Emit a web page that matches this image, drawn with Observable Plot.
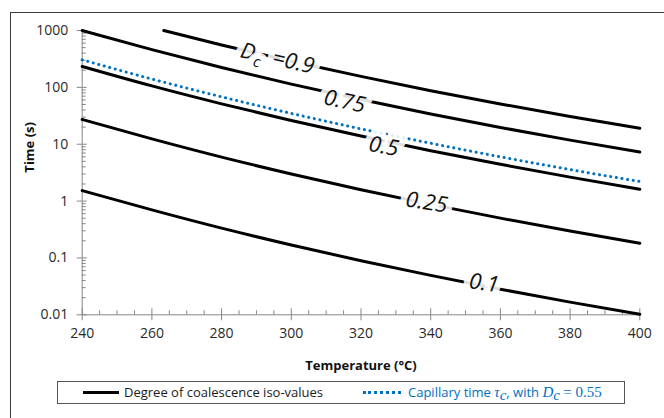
<!DOCTYPE html>
<html><head><meta charset="utf-8">
<script src="https://cdn.jsdelivr.net/npm/d3@7"></script>
<script src="https://cdn.jsdelivr.net/npm/@observablehq/plot@0.6"></script>
<style>
html,body{margin:0;padding:0;background:#fff;overflow:hidden;}
#wrap{position:relative;width:664px;height:418px;overflow:hidden;font-family:"Open Sans",sans-serif;}
#frame{position:absolute;left:10px;top:12px;width:700px;height:500px;border:1.5px solid #3a3a3a;box-sizing:border-box;}
#chart{position:absolute;left:0;top:0;}
#legend{position:absolute;left:57px;top:381px;width:568px;height:23px;border:1px solid #555;box-sizing:border-box;font-size:13px;color:#1a1a1a;}
#legend .it{position:absolute;top:1px;white-space:nowrap;line-height:19px;}
#legend .sw{position:absolute;top:10px;height:0;}
.m{font-family:"Liberation Serif",serif;font-size:15px;}
.m.i{font-style:italic;}
sub{font-size:11px;vertical-align:-3px;line-height:0;}
</style></head><body>
<div id="wrap">
  <div id="frame"></div>
  <div id="chart"></div>
  <div id="legend">
    <div class="sw" style="left:25px;width:36px;border-top:3px solid #000;top:9px"></div>
    <div class="it" style="left:66px">Degree of coalescence iso-values</div>
    <div class="sw" style="left:305px;width:38px;border-top:3px dotted #0070C0;top:9px"></div>
    <div class="it" style="left:350px;color:#0070C0">Capillary time <span class="m i">τ</span><sub class="m i">c</sub>, with <span class="m i">D</span><sub class="m i">c</sub> <span class="m">= 0.55</span></div>
  </div>
</div>
<script>
// ---- data ----
const temps = [240, 260, 280, 300, 320, 340, 360, 380, 400];
const dc01  = [1.53, 0.70, 0.334, 0.169, 0.0893, 0.0493, 0.0282, 0.0167, 0.0102];
const dc025 = [27.2, 12.4, 5.93, 3.00, 1.58, 0.875, 0.501, 0.297, 0.182];
const dc05  = [233, 106, 51.3, 26.1, 13.9, 7.69, 4.43, 2.64, 1.62];
const dc075 = [1000, 460, 223, 114, 61.2, 34.1, 19.7, 11.8, 7.28];
const dc09Temps = [263.4, 280, 300, 320, 340, 360, 380, 400];
const dc09  = [1000, 557, 288, 156, 87.5, 51.1, 30.8, 19.1];
const capillary = [305, 140, 68.1, 34.8, 18.6, 10.4, 6.0, 3.58, 2.21];

const labelText  = ["Dc =0.9", "0.75", "0.5", "0.25", "0.1"];
const labelTemp  = [296, 315.3, 326.5, 338.8, 355.3];
const labelTime  = [322, 56.4, 9.12, 0.944, 0.0362];
const labelAngle = [13, 12, 10, 9, 8];

const xTicks = [240, 260, 280, 300, 320, 340, 360, 380, 400];
const xTickLabels = ["240", "260", "280", "300", "320", "340", "360", "380", "400"];
const yTicks = [0.01, 0.1, 1, 10, 100, 1000];
const yTickLabels = ["0.01", "0.1", "1", "10", "100", "1000"];

// ---- build tables ----
const iso = [];
[[dc01, "0.1"], [dc025, "0.25"], [dc05, "0.5"], [dc075, "0.75"]].forEach(([arr, lv]) =>
  arr.forEach((v, i) => iso.push({T: temps[i], t: v, level: lv})));
dc09.forEach((v, i) => iso.push({T: dc09Temps[i], t: v, level: "0.9"}));
const cap = capillary.map((v, i) => ({T: temps[i], t: v}));
const labels = labelText.map((s, i) => ({text: s, T: labelTemp[i], t: labelTime[i], a: labelAngle[i]}));

const xMinor = [];
for (let v = 245; v < 400; v += 5) if (v % 20 !== 0) xMinor.push(v);
const yMinor = [];
for (const d of [0.01, 0.1, 1, 10, 100]) for (let k = 2; k <= 9; k++) yMinor.push(+(d * k).toPrecision(3));

const W = 664, H = 418, mL = 81.7, mR = 24.7, mT = 30, mB = 103.7;
const fw = W - mL - mR, fh = H - mT - mB;
const axisColor = "#868686", textColor = "#2a2a2a";

const plot = Plot.plot({
  width: W, height: H,
  marginLeft: mL, marginRight: mR, marginTop: mT, marginBottom: mB,
  style: {fontFamily: '"Open Sans",sans-serif', fontSize: "14px", background: "transparent", overflow: "visible"},
  x: {domain: [240, 400]},
  y: {type: "log", domain: [0.01, 1000]},
  marks: [
    Plot.axisX({ticks: xTicks, tickSize: 6, tickPadding: 7, tickFormat: d => xTickLabels[xTicks.indexOf(d)], label: null, stroke: axisColor, fill: textColor}),
    Plot.axisY({ticks: yTicks, tickSize: 5, tickPadding: 9, tickFormat: d => yTickLabels[yTicks.indexOf(d)], label: null, stroke: axisColor, fill: textColor}),
    Plot.tickX(xTicks, {x: d => d, insetTop: fh - 6, stroke: axisColor}),
    Plot.tickX(xMinor, {x: d => d, insetTop: fh - 4, stroke: axisColor}),
    Plot.tickY(yTicks, {y: d => d, insetRight: fw - 5, stroke: axisColor}),
    Plot.tickY(yMinor, {y: d => d, insetRight: fw - 4, stroke: axisColor}),
    Plot.ruleX([240], {stroke: axisColor}),
    Plot.ruleY([0.01], {stroke: axisColor}),
    Plot.line(iso, {x: "T", y: "t", z: "level", stroke: "#000", strokeWidth: 3, curve: "monotone-x"}),
    Plot.line(cap, {x: "T", y: "t", stroke: "#0070C0", strokeWidth: 3, strokeDasharray: "0.1 5.6", strokeLinecap: "round", curve: "monotone-x"}),
    Plot.text(labels, {x: "T", y: "t", text: "text", rotate: "a", fontSize: 22, fontStyle: "italic", fill: "#111",
      stroke: "white", strokeWidth: 13, strokeOpacity: 0.9, strokeLinejoin: "round"}),
    Plot.text(["Time (s)"], {frameAnchor: "left", dx: -52, rotate: -90, fontWeight: "bold", fontSize: 13, fill: "#111"}),
    Plot.text(["Temperature (°C)"], {frameAnchor: "bottom", dy: 55, fontWeight: "bold", fontSize: 13, fill: "#111"})
  ]
});
document.getElementById("chart").appendChild(plot);

// subscript for the D_c label
d3.select(plot).selectAll("text").each(function () {
  if (this.textContent === "Dc =0.9") {
    const t = d3.select(this);
    t.text(null);
    t.append("tspan").text("D");
    t.append("tspan").attr("font-size", 15).attr("dy", 6).text("c");
    t.append("tspan").attr("dy", -6).text("\u2002=0.9");
  }
});
</script>
</body></html>
